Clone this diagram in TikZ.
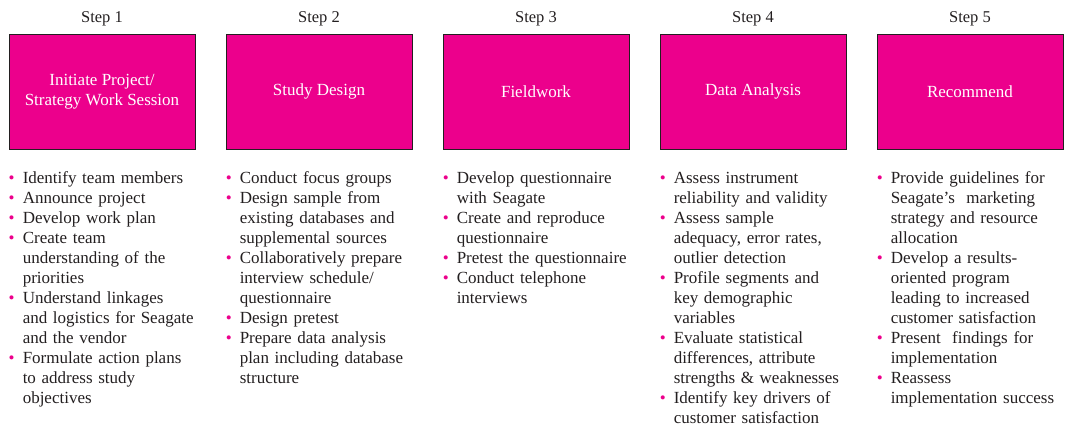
\documentclass[tikz,border=0pt]{standalone}
\usepackage{fontspec}
\setmainfont{Liberation Serif}
\usepackage{xcolor}
\usetikzlibrary{positioning}
\definecolor{stepmagenta}{RGB}{236,0,140}
\definecolor{inkgray}{RGB}{35,31,32}
\newcommand{\bitem}[1]{\par\hangindent=14pt\hangafter=1\noindent\makebox[14pt][l]{\strut\textcolor{stepmagenta}{\textbullet}}#1\par}

\begin{document}
\begin{tikzpicture}[x=1pt, y=1pt,
    stepbox/.style={draw=inkgray, line width=0.9pt, fill=stepmagenta, text=white,
        minimum width=186pt, minimum height=115pt, align=center, inner sep=0pt,
        font=\fontsize{17}{20}\selectfont},
    steplabel/.style={text=inkgray, inner sep=0pt, font=\fontsize{16.5}{20}\selectfont},
    itemlist/.style={text=inkgray, inner sep=0pt, text width=190pt, align=left,
        font=\fontsize{17}{20}\selectfont}]
    \useasboundingbox (0,0) rectangle (1067,-432);
    % Boxes and step labels
    \foreach \i/\txt in {1/{Initiate Project/\\Strategy Work Session}, 2/{Study Design},
        3/{Fieldwork}, 4/{Data Analysis}, 5/{Recommend}} {
        \node[stepbox] (box\i) at ({102+217*(\i-1)}, -91.5) {\txt};
        \node[steplabel, anchor=base] (step\i) at ([yshift=11pt]box\i.north) {Step \i};
    }
    % Task lists
    \node[itemlist, below=14pt of box1.south west, anchor=north west] (list1) {%
        \bitem{Identify team members}
        \bitem{Announce project}
        \bitem{Develop work plan}
        \bitem{Create team\newline understanding of the\newline priorities}
        \bitem{Understand linkages\newline and logistics for Seagate\newline and the vendor}
        \bitem{Formulate action plans\newline to address study\newline objectives}};
    \node[itemlist, below=14pt of box2.south west, anchor=north west] (list2) {%
        \bitem{Conduct focus groups}
        \bitem{Design sample from\newline existing databases and\newline supplemental sources}
        \bitem{Collaboratively prepare\newline interview schedule/\newline questionnaire}
        \bitem{Design pretest}
        \bitem{Prepare data analysis\newline plan including database\newline structure}};
    \node[itemlist, below=14pt of box3.south west, anchor=north west] (list3) {%
        \bitem{Develop questionnaire\newline with Seagate}
        \bitem{Create and reproduce\newline questionnaire}
        \bitem{Pretest the questionnaire}
        \bitem{Conduct telephone\newline interviews}};
    \node[itemlist, below=14pt of box4.south west, anchor=north west] (list4) {%
        \bitem{Assess instrument\newline reliability and validity}
        \bitem{Assess sample\newline adequacy, error rates,\newline outlier detection}
        \bitem{Profile segments and\newline key demographic\newline variables}
        \bitem{Evaluate statistical\newline differences, attribute\newline strengths \& weaknesses}
        \bitem{Identify key drivers of\newline customer satisfaction}};
    \node[itemlist, below=14pt of box5.south west, anchor=north west] (list5) {%
        \bitem{Provide guidelines for\newline Seagate’s\ \ marketing\newline strategy and resource\newline allocation}
        \bitem{Develop a results-\newline oriented program\newline leading to increased\newline customer satisfaction}
        \bitem{Present\ \ findings for\newline implementation}
        \bitem{Reassess\newline implementation success}};
\end{tikzpicture}
\end{document}
